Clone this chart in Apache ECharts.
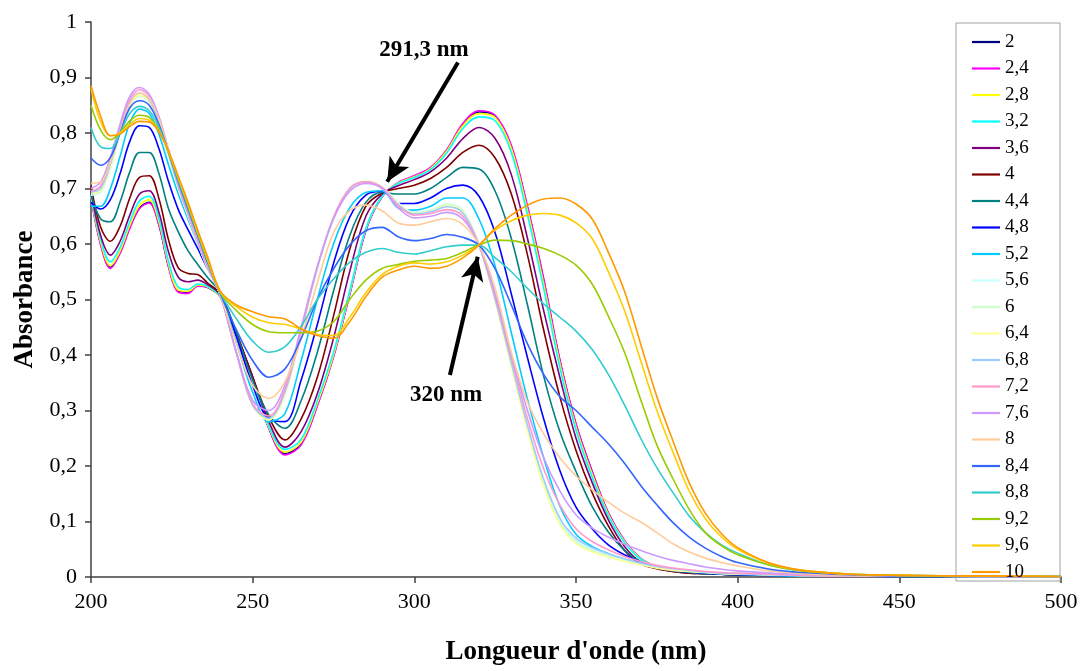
<!DOCTYPE html>
<html><head><meta charset="utf-8">
<script src="https://cdn.jsdelivr.net/npm/echarts@6/dist/echarts.min.js"></script>
<style>html,body{margin:0;padding:0;background:#fff}#c{width:1081px;height:671px}</style>
</head><body><div id="c"></div>
<script>
// wavelengths (nm)
const wavelengths = [200,203,206,209,212,215,218,221,224,227,230,233,236,
  240,245,250,255,260,265,270,275,280,285,290,295,300,305,310,315,320,325,330,335,340,345,350,355,360,365,370,375,380,385,390,395,400,
  410,420,435,450,475,500];

const seriesNames = ['2','2,4','2,8','3,2','3,6','4','4,4','4,8','5,2','5,6','6','6,4','6,8','7,2','7,6','8','8,4','8,8','9,2','9,6','10'];
const seriesColors = ['#000080','#FF00FF','#FFFF00','#00FFFF','#800080','#800000','#008080','#0000FF','#00CCFF','#CCFFFF','#CCFFCC','#FFFF99','#99CCFF','#FF99CC','#CC99FF','#FFCC99','#3366FF','#33CCCC','#99CC00','#FFCC00','#FF9900'];

const s2 = [0.685,0.600,0.558,0.585,0.630,0.665,0.675,0.635,0.560,0.515,0.513,0.525,0.522,
  0.505,0.435,0.360,0.268,0.222,0.240,0.310,0.398,0.510,0.625,0.685,0.710,0.722,0.736,0.768,0.815,0.838,0.830,0.775,0.665,0.535,0.390,0.275,0.190,0.115,0.065,0.033,0.018,0.011,0.008,0.006,0.005,0.004,
  0.003,0.002,0.002,0.001,0.001,0.001];
const s2_4 = [0.683,0.598,0.556,0.583,0.628,0.664,0.674,0.634,0.558,0.513,0.511,0.524,0.522,
  0.505,0.436,0.361,0.268,0.220,0.238,0.308,0.396,0.508,0.624,0.685,0.711,0.723,0.738,0.770,0.817,0.840,0.832,0.778,0.668,0.538,0.392,0.276,0.190,0.116,0.066,0.034,0.018,0.011,0.008,0.006,0.005,0.004,
  0.003,0.002,0.002,0.001,0.001,0.001];
const s2_8 = [0.686,0.603,0.561,0.588,0.634,0.670,0.680,0.640,0.563,0.517,0.515,0.526,0.523,
  0.505,0.435,0.359,0.270,0.225,0.243,0.313,0.400,0.512,0.627,0.686,0.710,0.721,0.736,0.767,0.813,0.835,0.828,0.772,0.660,0.528,0.385,0.270,0.185,0.113,0.064,0.033,0.018,0.011,0.008,0.006,0.005,0.004,
  0.003,0.002,0.002,0.001,0.001,0.001];
const s3_2 = [0.688,0.608,0.568,0.594,0.640,0.678,0.686,0.646,0.568,0.522,0.518,0.528,0.524,
  0.506,0.435,0.358,0.272,0.230,0.248,0.318,0.405,0.515,0.628,0.686,0.709,0.720,0.734,0.764,0.808,0.829,0.822,0.765,0.652,0.520,0.378,0.265,0.180,0.110,0.062,0.032,0.018,0.011,0.008,0.006,0.005,0.004,
  0.003,0.002,0.002,0.001,0.001,0.001];
const s3_6 = [0.695,0.615,0.580,0.605,0.652,0.690,0.696,0.657,0.585,0.540,0.532,0.535,0.527,
  0.508,0.438,0.360,0.280,0.234,0.262,0.330,0.430,0.550,0.650,0.690,0.705,0.716,0.730,0.755,0.790,0.810,0.790,0.725,0.610,0.480,0.360,0.250,0.170,0.103,0.055,0.027,0.016,0.010,0.007,0.006,0.005,0.004,
  0.003,0.002,0.002,0.001,0.001,0.001];
const s4 = [0.705,0.630,0.605,0.632,0.683,0.720,0.723,0.682,0.607,0.557,0.547,0.545,0.530,
  0.510,0.440,0.360,0.288,0.247,0.285,0.360,0.470,0.590,0.668,0.692,0.700,0.706,0.718,0.738,0.765,0.778,0.755,0.690,0.580,0.445,0.325,0.228,0.152,0.092,0.048,0.024,0.015,0.010,0.007,0.006,0.005,0.004,
  0.003,0.002,0.002,0.001,0.001,0.001];
const s4_4 = [0.690,0.645,0.640,0.676,0.730,0.765,0.765,0.727,0.663,0.622,0.588,0.563,0.540,
  0.512,0.438,0.355,0.292,0.268,0.318,0.405,0.515,0.615,0.675,0.693,0.690,0.690,0.700,0.720,0.738,0.735,0.695,0.610,0.490,0.362,0.262,0.190,0.127,0.081,0.048,0.027,0.017,0.011,0.008,0.006,0.005,0.004,
  0.003,0.002,0.002,0.001,0.001,0.001];
const s4_8 = [0.675,0.663,0.680,0.727,0.785,0.813,0.810,0.772,0.712,0.662,0.626,0.592,0.556,
  0.512,0.432,0.345,0.285,0.280,0.355,0.455,0.565,0.648,0.688,0.695,0.673,0.673,0.683,0.700,0.706,0.686,0.620,0.510,0.395,0.285,0.192,0.126,0.087,0.058,0.040,0.027,0.018,0.012,0.009,0.007,0.005,0.004,
  0.003,0.002,0.002,0.001,0.001,0.001];
const s5_2 = [0.668,0.668,0.700,0.758,0.818,0.843,0.835,0.798,0.742,0.690,0.645,0.601,0.558,
  0.512,0.422,0.333,0.280,0.295,0.390,0.500,0.600,0.665,0.693,0.696,0.665,0.661,0.668,0.683,0.683,0.645,0.560,0.440,0.320,0.215,0.128,0.077,0.055,0.042,0.032,0.025,0.018,0.013,0.010,0.008,0.006,0.005,
  0.003,0.002,0.002,0.001,0.001,0.001];
const s5_6 = [0.688,0.693,0.735,0.797,0.848,0.866,0.855,0.815,0.758,0.700,0.650,0.602,0.557,
  0.508,0.405,0.310,0.284,0.328,0.440,0.555,0.645,0.698,0.712,0.703,0.674,0.657,0.661,0.672,0.662,0.598,0.500,0.385,0.270,0.172,0.102,0.066,0.050,0.040,0.031,0.024,0.018,0.014,0.011,0.009,0.007,0.006,
  0.004,0.003,0.002,0.002,0.001,0.001];
const s6 = [0.690,0.695,0.738,0.800,0.850,0.867,0.856,0.816,0.759,0.701,0.651,0.603,0.557,
  0.508,0.404,0.309,0.283,0.330,0.442,0.556,0.646,0.699,0.713,0.703,0.673,0.656,0.660,0.670,0.660,0.598,0.498,0.382,0.267,0.168,0.099,0.063,0.048,0.038,0.030,0.023,0.017,0.013,0.010,0.008,0.007,0.006,
  0.004,0.003,0.002,0.002,0.001,0.001];
const s6_4 = [0.692,0.697,0.740,0.802,0.852,0.868,0.857,0.817,0.760,0.702,0.652,0.604,0.558,
  0.508,0.404,0.308,0.283,0.331,0.443,0.557,0.647,0.700,0.713,0.703,0.672,0.655,0.659,0.669,0.658,0.598,0.496,0.379,0.263,0.163,0.095,0.060,0.045,0.036,0.028,0.022,0.016,0.012,0.010,0.008,0.006,0.005,
  0.004,0.003,0.002,0.002,0.001,0.001];
const s6_8 = [0.694,0.700,0.744,0.805,0.856,0.872,0.860,0.820,0.762,0.703,0.653,0.604,0.558,
  0.508,0.403,0.309,0.286,0.334,0.444,0.557,0.647,0.700,0.712,0.702,0.671,0.654,0.658,0.667,0.656,0.598,0.500,0.386,0.273,0.176,0.106,0.070,0.053,0.042,0.033,0.025,0.019,0.015,0.012,0.009,0.007,0.006,
  0.004,0.003,0.002,0.002,0.001,0.001];
const s7_2 = [0.695,0.705,0.750,0.810,0.860,0.878,0.866,0.826,0.766,0.706,0.655,0.605,0.559,
  0.508,0.402,0.312,0.290,0.338,0.445,0.558,0.648,0.700,0.712,0.702,0.669,0.652,0.655,0.662,0.650,0.598,0.505,0.395,0.285,0.195,0.130,0.087,0.064,0.049,0.037,0.028,0.021,0.016,0.013,0.010,0.008,0.007,
  0.005,0.003,0.002,0.002,0.001,0.001];
const s7_6 = [0.700,0.712,0.756,0.816,0.866,0.882,0.870,0.830,0.770,0.710,0.660,0.610,0.562,
  0.508,0.405,0.318,0.300,0.346,0.450,0.560,0.645,0.695,0.709,0.700,0.665,0.647,0.650,0.657,0.645,0.598,0.510,0.400,0.300,0.215,0.155,0.112,0.088,0.072,0.059,0.048,0.038,0.030,0.024,0.018,0.014,0.011,
  0.007,0.005,0.003,0.002,0.001,0.001];
const s8 = [0.710,0.712,0.748,0.802,0.853,0.872,0.862,0.825,0.770,0.712,0.662,0.613,0.565,
  0.508,0.420,0.345,0.322,0.352,0.430,0.530,0.620,0.660,0.670,0.660,0.638,0.634,0.640,0.646,0.635,0.598,0.520,0.405,0.315,0.258,0.215,0.182,0.157,0.135,0.115,0.099,0.080,0.060,0.045,0.034,0.026,0.020,
  0.011,0.006,0.003,0.002,0.001,0.001];
const s8_4 = [0.755,0.742,0.756,0.800,0.845,0.858,0.850,0.815,0.765,0.712,0.663,0.615,0.567,
  0.510,0.445,0.390,0.360,0.375,0.430,0.500,0.555,0.598,0.624,0.630,0.613,0.606,0.610,0.617,0.612,0.598,0.555,0.490,0.420,0.365,0.325,0.300,0.270,0.240,0.205,0.165,0.130,0.098,0.072,0.052,0.037,0.026,
  0.014,0.008,0.004,0.002,0.001,0.001];
const s8_8 = [0.810,0.775,0.772,0.800,0.835,0.848,0.840,0.810,0.765,0.715,0.667,0.618,0.570,
  0.512,0.465,0.425,0.405,0.415,0.452,0.500,0.537,0.567,0.585,0.592,0.585,0.582,0.588,0.595,0.598,0.598,0.575,0.550,0.520,0.492,0.468,0.443,0.410,0.365,0.310,0.250,0.197,0.152,0.110,0.080,0.058,0.043,
  0.021,0.011,0.005,0.003,0.002,0.001];
const s9_2 = [0.850,0.805,0.788,0.800,0.822,0.832,0.828,0.805,0.765,0.718,0.670,0.620,0.572,
  0.513,0.480,0.455,0.442,0.440,0.440,0.443,0.460,0.500,0.535,0.556,0.563,0.569,0.571,0.574,0.585,0.598,0.607,0.606,0.600,0.592,0.580,0.562,0.528,0.470,0.405,0.320,0.238,0.177,0.122,0.080,0.056,0.040,
  0.021,0.011,0.005,0.003,0.002,0.001];
const s9_6 = [0.880,0.820,0.795,0.800,0.816,0.826,0.823,0.803,0.766,0.720,0.672,0.622,0.575,
  0.514,0.487,0.468,0.458,0.455,0.447,0.437,0.435,0.468,0.512,0.545,0.560,0.566,0.564,0.568,0.580,0.598,0.625,0.642,0.652,0.655,0.652,0.638,0.610,0.550,0.480,0.390,0.300,0.225,0.155,0.105,0.072,0.050,
  0.024,0.012,0.005,0.003,0.002,0.001];
const s10 = [0.885,0.830,0.795,0.798,0.812,0.821,0.820,0.802,0.767,0.722,0.675,0.625,0.578,
  0.515,0.490,0.478,0.469,0.465,0.447,0.435,0.430,0.460,0.505,0.540,0.553,0.560,0.556,0.560,0.575,0.598,0.628,0.652,0.670,0.681,0.683,0.672,0.645,0.585,0.515,0.420,0.325,0.245,0.170,0.115,0.078,0.053,
  0.025,0.012,0.005,0.003,0.002,0.001];

const seriesValues = [s2,s2_4,s2_8,s3_2,s3_6,s4,s4_4,s4_8,s5_2,s5_6,s6,s6_4,s6_8,s7_2,s7_6,s8,s8_4,s8_8,s9_2,s9_6,s10];

const xTickLabels = ['200','250','300','350','400','450','500'];
const yTickLabels = ['0','0,1','0,2','0,3','0,4','0,5','0,6','0,7','0,8','0,9','1'];

// annotations in data units (wavelength, absorbance): text centre, arrow tail, arrow tip
const annotations = [
  {text:'291,3 nm', textAt:[303.0,0.950], from:[313.5,0.927], to:[291.6,0.712]},
  {text:'320 nm',   textAt:[309.8,0.327], from:[311.0,0.364], to:[319.6,0.577]}
];

const serif = "'Liberation Serif','Times New Roman',serif";
const chart = echarts.init(document.getElementById('c'));

const series = seriesNames.map((name, i) => ({
  name, type:'line',
  data: wavelengths.map((w, j) => [w, seriesValues[i][j]]),
  symbol:'none', showSymbol:false, smooth:0.35,
  lineStyle:{width:1.6, color:seriesColors[i]},
  itemStyle:{color:seriesColors[i]},
  emphasis:{disabled:true}, animation:false
}));
series.push({
  name:'annotations', type:'line', data:[], silent:true, animation:false,
  markLine:{
    silent:true, animation:false, symbol:['none','arrow'], symbolSize:[17,24],
    label:{show:false}, emphasis:{disabled:true},
    lineStyle:{color:'#000', width:4, type:'solid', opacity:1},
    data: annotations.map(a => [{coord:a.from}, {coord:a.to}])
  },
  markPoint:{
    silent:true, animation:false, symbol:'rect', symbolSize:1,
    itemStyle:{color:'rgba(0,0,0,0)'},
    label:{show:true, position:'inside', color:'#000', fontFamily:serif, fontWeight:'bold', fontSize:23,
      formatter: p => p.name},
    data: annotations.map(a => ({name:a.text, coord:a.textAt}))
  }
});

chart.setOption({
  animation:false,
  backgroundColor:'#fff',
  grid:{left:91, right:20, top:22, bottom:91},
  xAxis:{
    type:'value', min:200, max:500, interval:50,
    name:"Longueur d'onde (nm)", nameLocation:'middle', nameGap:62,
    nameTextStyle:{fontFamily:serif, fontWeight:'bold', fontSize:27, color:'#000'},
    axisLine:{show:true, onZero:false, lineStyle:{color:'#404040', width:1.5}},
    axisTick:{show:true, inside:false, length:6, lineStyle:{color:'#404040', width:1.5}},
    axisLabel:{fontFamily:serif, fontSize:22, color:'#000', margin:14,
      formatter: v => xTickLabels[Math.round((v-200)/50)]},
    splitLine:{show:false}
  },
  yAxis:{
    type:'value', min:0, max:1, interval:0.1,
    name:'Absorbance', nameLocation:'middle', nameGap:52,
    nameTextStyle:{fontFamily:serif, fontWeight:'bold', fontSize:27, color:'#000'},
    axisLine:{show:true, lineStyle:{color:'#404040', width:1.5}},
    axisTick:{show:true, inside:false, length:6, lineStyle:{color:'#404040', width:1.5}},
    axisLabel:{fontFamily:serif, fontSize:22, color:'#000', margin:14,
      formatter: v => yTickLabels[Math.round(v*10)]},
    splitLine:{show:false}
  },
  legend:{
    data: seriesNames.map(n => ({name:n, icon:'rect'})), orient:'vertical', left:962, top:23,
    padding:[9.5,10,2,10], itemWidth:28, itemHeight:2.2, itemGap:7.5,
    textStyle:{fontFamily:serif, fontSize:19, color:'#000'},
    selectedMode:false
  },
  graphic:[{type:'rect', silent:true, z:100,
    shape:{x:956, y:23, width:104, height:558},
    style:{fill:'none', stroke:'#a0a0a0', lineWidth:1}}],
  series
});
</script></body></html>
